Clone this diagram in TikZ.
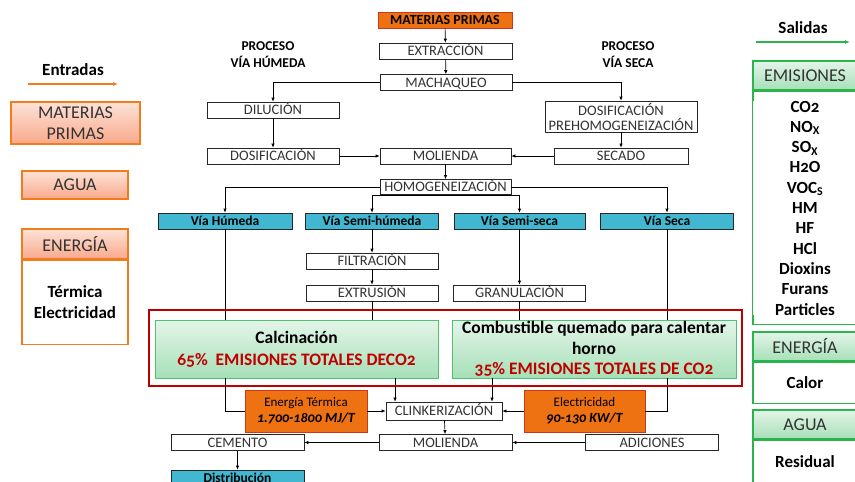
\documentclass[tikz,border=0pt]{standalone}
\usepackage{fontspec}
\setmainfont{Carlito}[Numbers=OldStyle]
\usetikzlibrary{arrows.meta}

\definecolor{naranja}{HTML}{EE7112}
\definecolor{rojoborde}{HTML}{C8381E}
\definecolor{naranjaborde}{HTML}{F07C1E}
\definecolor{salmonclaro}{HTML}{FDE2D7}
\definecolor{salmon}{HTML}{F9A98B}
\definecolor{azul}{HTML}{41B7D2}
\definecolor{verdeborde}{HTML}{4CC273}
\definecolor{verde}{HTML}{2DB34B}
\definecolor{verdeclaro}{HTML}{E4F5E9}
\definecolor{verdemedio}{HTML}{A6E0B7}
\definecolor{rojo}{HTML}{C00000}

\begin{document}
\begin{tikzpicture}[x=1pt,y=-1pt,line width=0.65pt,>={Latex[length=4pt,width=3.4pt]},
    proc/.style={draw=black!85, fill=white, inner sep=0pt, minimum width=132,
      minimum height=16, text height=11.3, text depth=2, text=black!80,
      font=\fontsize{14.5}{14.5}\selectfont},
    via/.style={draw=black!85, fill=azul, inner sep=0pt, minimum width=133,
      minimum height=16, text height=10.8, text depth=2,
      font=\fontsize{13.5}{14}\selectfont\bfseries},
    hot/.style={draw=rojoborde, fill=naranja, inner sep=0pt, align=center},
    entrada/.style={draw=naranjaborde, line width=1.3pt, top color=salmonclaro,
      bottom color=salmon, inner sep=0pt, align=center, text=black!80,
      font=\fontsize{18}{21}\selectfont},
    salida/.style={draw=verde, line width=1.3pt, top color=verdeclaro,
      bottom color=verdemedio, inner sep=0pt, minimum width=104, minimum height=29,
      text=black!80, font=\fontsize{18}{20}\selectfont},
    cuerpo/.style={inner sep=0pt, fill=white, minimum width=104, align=center,
      font=\fontsize{17}{20.3}\selectfont\bfseries},
    emision/.style={draw=verdeborde, top color=verdeclaro, bottom color=verdemedio,
      inner sep=0pt, minimum width=283, minimum height=58, align=center,
      font=\fontsize{17.5}{21}\selectfont\bfseries},
    titulo/.style={align=center, font=\fontsize{13.5}{17}\selectfont\bfseries}
  ]
  \useasboundingbox (0,0) rectangle (855,482);
  \clip (0,0) rectangle (855,482);

  % main process chain
  \node[hot, minimum width=134, minimum height=16, text height=10.5, text depth=2,
    font=\fontsize{14}{14}\selectfont\bfseries] (mp) at (445,20) {MATERIAS PRIMAS};
  \node[proc, minimum width=133] (extr) at (445.5,51) {EXTRACCIÓN};
  \node[proc] (mach) at (446,82.5) {MACHAQUEO};

  \node[titulo] (phum) at (268,55) {PROCESO\\VÍA HÚMEDA};
  \node[titulo] (pseca) at (628,55) {PROCESO\\VÍA SECA};

  \node[proc] (dil) at (273,110) {DILUCIÓN};
  \node[proc, minimum width=152, minimum height=31, text height=, text depth=, align=center,
    font=\fontsize{14.5}{15}\selectfont] (prehom) at (621,116.5) {DOSIFICACIÓN\\PREHOMOGENEIZACIÓN};
  \node[proc] (dosif) at (273,156) {DOSIFICACIÓN};
  \node[proc, minimum width=131] (mol1) at (445.5,156) {MOLIENDA};
  \node[proc, minimum width=134] (sec) at (621,156) {SECADO};
  \node[proc, minimum width=131, minimum height=15] (homo) at (445.5,187) {HOMOGENEIZACIÓN};

  % the four ways
  \node[via, minimum width=134] (vhum) at (225,221) {Vía Húmeda};
  \node[via] (vsh) at (372,221) {Vía Semi-húmeda};
  \node[via, minimum width=131] (vss) at (519.5,221) {Vía Semi-seca};
  \node[via] (vsec) at (667,221) {Vía Seca};

  \node[proc] (filt) at (372,261) {FILTRACIÓN};
  \node[proc] (extru) at (372,293) {EXTRUSIÓN};
  \node[proc] (gran) at (519.5,293) {GRANULACIÓN};

  % kiln
  \node[emision] (calc) at (296.5,349)
    {Calcinación\\[1pt]\textcolor{rojo}{65\%\ \ EMISIONES TOTALES DECO2}};
  \node[emision, minimum width=284, font=\fontsize{17.5}{20.5}\selectfont\bfseries] (comb) at (594,349)
    {Combustible quemado para calentar\\horno\\\textcolor{rojo}{35\% EMISIONES TOTALES DE CO2}};

  \node[hot, minimum width=122, minimum height=42] (eterm) at (306,411)
    {\fontsize{13}{15}\selectfont Energía Térmica\\[4pt]
     \fontsize{14}{15}\selectfont\bfseries\itshape 1.700-1800 MJ/T};
  \node[hot, minimum width=121, minimum height=42] (elec) at (584.5,411)
    {\fontsize{13}{15}\selectfont Electricidad\\[4pt]
     \fontsize{14}{15}\selectfont\bfseries\itshape 90-130 KW/T};
  \node[proc, minimum width=116, minimum height=18] (clink) at (444,411) {CLINKERIZACIÓN};

  \node[proc, minimum width=133] (mol2) at (445.5,442.5) {MOLIENDA};
  \node[proc, minimum width=133] (cem) at (237.5,442.5) {CEMENTO};
  \node[proc, minimum width=133] (adic) at (652,442.5) {ADICIONES};
  \node[via] (distr) at (237.5,478) {Distribución};

  % connectors
  \draw[->] (mp) -- (extr);
  \draw[->] (extr) -- (mach);
  \draw[->] (mach.west) -| (dil.north);
  \draw[->] (mach.east) -| (prehom.north);
  \draw[->] (dil) -- (dosif);
  \draw[->] (prehom) -- (sec);
  \draw[->] (dosif) -- (mol1);
  \draw[->] (sec) -- (mol1);
  \draw[->] (mol1) -- (homo);
  \draw[->] (homo.west) -| (vhum.north);
  \draw[->] (homo.east) -| (vsec.north);
  \draw[<->] (vsh.north) |- (homo.south) -| (vss.north);
  \draw[->] (vsh) -- (filt);
  \draw[->] (filt) -- (extru);
  \draw[->] (vss) -- (gran);

  \draw (vhum) -- (vhum |- calc.north);
  \draw (extru) -- (extru |- calc.north);
  \draw (gran) -- (gran |- comb.north);
  \draw (vsec) -- (vsec |- comb.north);
  \draw (vhum |- calc.south) |- (eterm.west);
  \draw (vsec |- comb.south) |- (elec.east);

  \coordinate (cin1) at ([xshift=-49]clink.north);
  \coordinate (cin2) at ([xshift=48]clink.north);
  \draw[->] (cin1 |- calc.south) -- (cin1);
  \draw[->] (cin2 |- comb.south) -- (cin2);
  \draw[->] (eterm) -- (clink);
  \draw[->] (elec) -- (clink);
  \draw[->] (clink) -- (mol2);
  \draw[->] (mol2) -- (cem);
  \draw[->] (adic) -- (mol2);
  \draw[->] (cem) -- (distr);

  % red frame round the kiln
  \draw[rojo, line width=2.6pt] (149,310) rectangle (742,386);

  % inputs
  \node[font=\fontsize{17}{18}\selectfont\bfseries] (entr) at (73,70) {Entradas};
  \coordinate (ein) at (28,84);
  \coordinate (eout) at (118,84);
  \draw[naranjaborde, line width=1.3pt, -{Latex[length=5pt,width=4pt]}] (ein) -- (eout);

  \node[entrada, minimum width=129, minimum height=42] (mpin) at (75.5,123) {MATERIAS\\PRIMAS};
  \node[entrada, minimum width=106, minimum height=28] (aguain) at (75,185) {AGUA};
  \node[entrada, minimum width=106, minimum height=30] (enerin) at (75,244) {ENERGÍA};
  \node[draw=naranjaborde, line width=1.3pt, inner sep=0pt, minimum width=106, minimum height=84,
    align=center, font=\fontsize{17}{21}\selectfont\bfseries, anchor=north]
    (enerbody) at (enerin.south) {Térmica\\Electricidad};

  % outputs
  \node[font=\fontsize{17}{18}\selectfont\bfseries] (sal) at (803,28) {Salidas};
  \coordinate (sin) at (756,42);
  \coordinate (sout) at (850,42);
  \draw[verde, line width=1.3pt, -{Latex[length=5pt,width=4pt]}] (sin) -- (sout);

  \node[salida] (emis) at (805,75.5) {EMISIONES};
  \node[cuerpo, draw=verde, line width=1.3pt, minimum height=233, anchor=north] (emisbody) at (emis.south) {};
  \node[cuerpo] (lista) at (805,208)
    {CO2\\NO\textsubscript{X}\\SO\textsubscript{X}\\H2O\\VOC\textsubscript{S}\\HM\\HF\\HCl\\Dioxins\\Furans\\Particles};

  \node[salida] (enerout) at (805,346.5) {ENERGÍA};
  \node[cuerpo, draw=verde, line width=1.3pt, minimum height=41, anchor=north] (calor) at (enerout.south) {Calor};

  \node[salida] (aguaout) at (805,424.5) {AGUA};
  \node[cuerpo, draw=verde, line width=1.3pt, minimum height=56, anchor=north] (resid) at (aguaout.south)
    {\raisebox{13pt}{Residual}};
\end{tikzpicture}
\end{document}
